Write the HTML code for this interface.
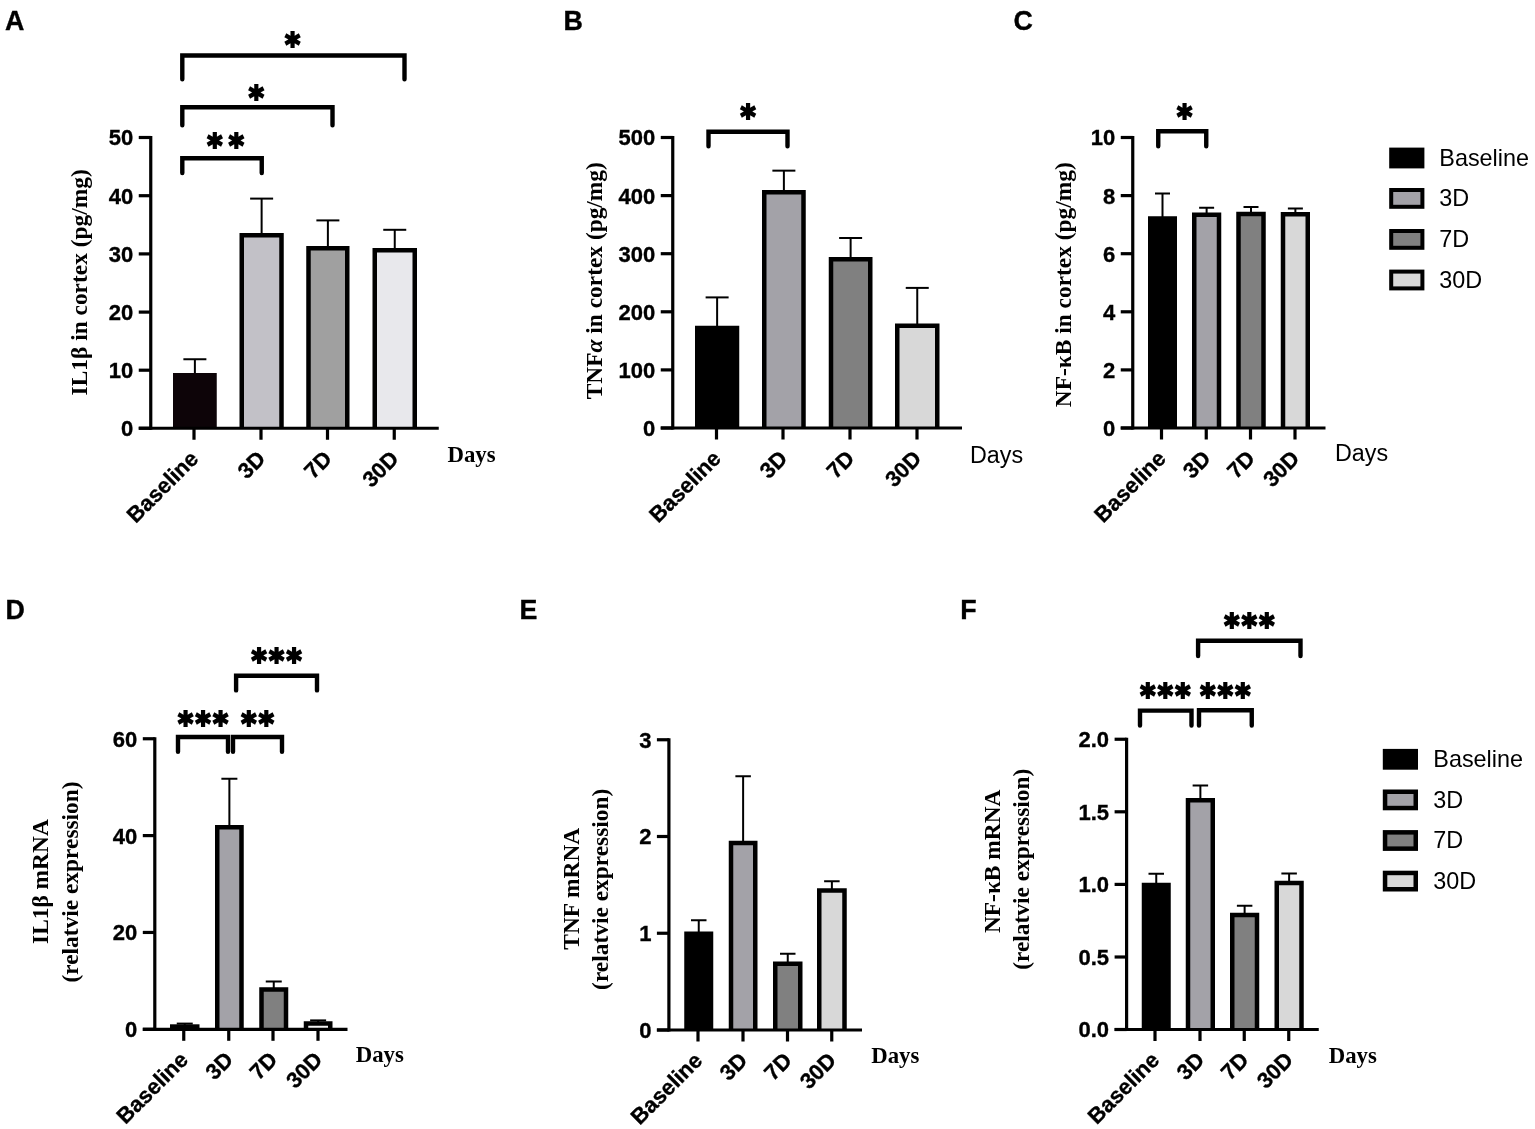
<!DOCTYPE html>
<html lang="en">
<head>
<meta charset="utf-8">
<title>Figure</title>
<style>
html,body{margin:0;padding:0;background:#fff;}
body{width:1535px;height:1129px;overflow:hidden;}
svg{display:block;filter:blur(0.45px);}
text{white-space:pre;}
</style>
</head>
<body>
<svg width="1535" height="1129" viewBox="0 0 1535 1129">
<rect width="1535" height="1129" fill="#fff"/>
<line x1="194.88" y1="359.25" x2="194.88" y2="375" stroke="#000" stroke-width="2" stroke-linecap="butt"/>
<line x1="183.38" y1="359.25" x2="206.38" y2="359.25" stroke="#000" stroke-width="2" stroke-linecap="butt"/>
<rect x="173" y="373" width="43.75" height="55.25" fill="#0d0408"/>
<line x1="261.62" y1="198.6" x2="261.62" y2="235" stroke="#000" stroke-width="2" stroke-linecap="butt"/>
<line x1="250.12" y1="198.6" x2="273.12" y2="198.6" stroke="#000" stroke-width="2" stroke-linecap="butt"/>
<path d="M241.75 428.25V235.25H281.5V428.25" fill="#c2c1c7" stroke="#000" stroke-width="4.5" stroke-linejoin="miter"/>
<line x1="327.88" y1="220.4" x2="327.88" y2="248" stroke="#000" stroke-width="2" stroke-linecap="butt"/>
<line x1="316.38" y1="220.4" x2="339.38" y2="220.4" stroke="#000" stroke-width="2" stroke-linecap="butt"/>
<path d="M308.5 428.25V248.25H347.25V428.25" fill="#a0a0a0" stroke="#000" stroke-width="4.5" stroke-linejoin="miter"/>
<line x1="394.75" y1="229.8" x2="394.75" y2="249.9" stroke="#000" stroke-width="2" stroke-linecap="butt"/>
<line x1="383.25" y1="229.8" x2="406.25" y2="229.8" stroke="#000" stroke-width="2" stroke-linecap="butt"/>
<path d="M374.75 428.25V250.15H414.75V428.25" fill="#e8e8ec" stroke="#000" stroke-width="4.5" stroke-linejoin="miter"/>
<line x1="150.75" y1="135.9" x2="150.75" y2="429.85" stroke="#000" stroke-width="3.2" stroke-linecap="butt"/>
<line x1="138.75" y1="428.25" x2="438.75" y2="428.25" stroke="#000" stroke-width="3.2" stroke-linecap="butt"/>
<line x1="138.75" y1="137.5" x2="150.75" y2="137.5" stroke="#000" stroke-width="3.2" stroke-linecap="butt"/>
<text x="133.25" y="145.4" font-family='"Liberation Sans", Arial, Helvetica, sans-serif' font-size="22" font-weight="bold" text-anchor="end" fill="#000" stroke="#000" stroke-width="0.35">50</text>
<line x1="138.75" y1="195.7" x2="150.75" y2="195.7" stroke="#000" stroke-width="3.2" stroke-linecap="butt"/>
<text x="133.25" y="203.6" font-family='"Liberation Sans", Arial, Helvetica, sans-serif' font-size="22" font-weight="bold" text-anchor="end" fill="#000" stroke="#000" stroke-width="0.35">40</text>
<line x1="138.75" y1="253.9" x2="150.75" y2="253.9" stroke="#000" stroke-width="3.2" stroke-linecap="butt"/>
<text x="133.25" y="261.8" font-family='"Liberation Sans", Arial, Helvetica, sans-serif' font-size="22" font-weight="bold" text-anchor="end" fill="#000" stroke="#000" stroke-width="0.35">30</text>
<line x1="138.75" y1="312.1" x2="150.75" y2="312.1" stroke="#000" stroke-width="3.2" stroke-linecap="butt"/>
<text x="133.25" y="320" font-family='"Liberation Sans", Arial, Helvetica, sans-serif' font-size="22" font-weight="bold" text-anchor="end" fill="#000" stroke="#000" stroke-width="0.35">20</text>
<line x1="138.75" y1="370.2" x2="150.75" y2="370.2" stroke="#000" stroke-width="3.2" stroke-linecap="butt"/>
<text x="133.25" y="378.1" font-family='"Liberation Sans", Arial, Helvetica, sans-serif' font-size="22" font-weight="bold" text-anchor="end" fill="#000" stroke="#000" stroke-width="0.35">10</text>
<line x1="138.75" y1="428.25" x2="150.75" y2="428.25" stroke="#000" stroke-width="3.2" stroke-linecap="butt"/>
<text x="133.25" y="436.15" font-family='"Liberation Sans", Arial, Helvetica, sans-serif' font-size="22" font-weight="bold" text-anchor="end" fill="#000" stroke="#000" stroke-width="0.35">0</text>
<line x1="194" y1="428.25" x2="194" y2="439.75" stroke="#000" stroke-width="3.2" stroke-linecap="butt"/>
<text x="199.75" y="460" font-family='"Liberation Sans", Arial, Helvetica, sans-serif' font-size="22" font-weight="bold" text-anchor="end" fill="#000" transform="rotate(-45 199.75 460)" stroke="#000" stroke-width="0.35">Baseline</text>
<line x1="261" y1="428.25" x2="261" y2="439.75" stroke="#000" stroke-width="3.2" stroke-linecap="butt"/>
<text x="266.75" y="460" font-family='"Liberation Sans", Arial, Helvetica, sans-serif' font-size="22" font-weight="bold" text-anchor="end" fill="#000" transform="rotate(-45 266.75 460)" stroke="#000" stroke-width="0.35">3D</text>
<line x1="327.5" y1="428.25" x2="327.5" y2="439.75" stroke="#000" stroke-width="3.2" stroke-linecap="butt"/>
<text x="333.25" y="460" font-family='"Liberation Sans", Arial, Helvetica, sans-serif' font-size="22" font-weight="bold" text-anchor="end" fill="#000" transform="rotate(-45 333.25 460)" stroke="#000" stroke-width="0.35">7D</text>
<line x1="394.25" y1="428.25" x2="394.25" y2="439.75" stroke="#000" stroke-width="3.2" stroke-linecap="butt"/>
<text x="400" y="460" font-family='"Liberation Sans", Arial, Helvetica, sans-serif' font-size="22" font-weight="bold" text-anchor="end" fill="#000" transform="rotate(-45 400 460)" stroke="#000" stroke-width="0.35">30D</text>
<text x="447.5" y="461.5" font-family='"Liberation Serif", "Times New Roman", Times, serif' font-size="22.8" font-weight="bold" text-anchor="start" fill="#000">Days</text>
<text x="87" y="282.35" font-family='"Liberation Serif", "Times New Roman", Times, serif' font-size="23.4" font-weight="bold" text-anchor="middle" fill="#000" transform="rotate(-90 87 282.35)">IL1β in cortex (pg/mg)</text>
<path d="M182.3 173V158.25H261.75V173" fill="none" stroke="#000" stroke-width="4.4" stroke-linecap="round" stroke-linejoin="miter"/>
<g transform="translate(225.6 156.41) scale(0.9 1)"><text x="3.55" y="0" font-family='"DejaVu Sans", "Liberation Sans", sans-serif' font-size="32.1" font-weight="bold" text-anchor="middle" letter-spacing="7.1" stroke="#000" stroke-width="2">**</text></g>
<path d="M182.3 125.2V107.2H332.5V125.2" fill="none" stroke="#000" stroke-width="4.4" stroke-linecap="round" stroke-linejoin="miter"/>
<g transform="translate(256.4 107.51) scale(0.9 1)"><text x="1.32" y="0" font-family='"DejaVu Sans", "Liberation Sans", sans-serif' font-size="32.1" font-weight="bold" text-anchor="middle" letter-spacing="2.65" stroke="#000" stroke-width="2">*</text></g>
<path d="M182.3 79.2V55.5H404.5V79.2" fill="none" stroke="#000" stroke-width="4.4" stroke-linecap="round" stroke-linejoin="miter"/>
<g transform="translate(292.6 54.91) scale(0.9 1)"><text x="1.32" y="0" font-family='"DejaVu Sans", "Liberation Sans", sans-serif' font-size="32.1" font-weight="bold" text-anchor="middle" letter-spacing="2.65" stroke="#000" stroke-width="2">*</text></g>
<text x="5.1" y="29.8" font-family='"Liberation Sans", Arial, Helvetica, sans-serif' font-size="26.8" font-weight="bold" text-anchor="start" fill="#000" stroke="#000" stroke-width="0.35">A</text>
<line x1="717.12" y1="297.4" x2="717.12" y2="327.75" stroke="#000" stroke-width="2" stroke-linecap="butt"/>
<line x1="705.62" y1="297.4" x2="728.62" y2="297.4" stroke="#000" stroke-width="2" stroke-linecap="butt"/>
<rect x="695" y="325.75" width="44.25" height="102.25" fill="#000000"/>
<line x1="783.88" y1="170.65" x2="783.88" y2="192" stroke="#000" stroke-width="2" stroke-linecap="butt"/>
<line x1="772.38" y1="170.65" x2="795.38" y2="170.65" stroke="#000" stroke-width="2" stroke-linecap="butt"/>
<path d="M764.25 428V192.25H803.5V428" fill="#a3a2a8" stroke="#000" stroke-width="4.5" stroke-linejoin="miter"/>
<line x1="850.62" y1="238" x2="850.62" y2="259" stroke="#000" stroke-width="2" stroke-linecap="butt"/>
<line x1="839.12" y1="238" x2="862.12" y2="238" stroke="#000" stroke-width="2" stroke-linecap="butt"/>
<path d="M831 428V259.25H870.25V428" fill="#808080" stroke="#000" stroke-width="4.5" stroke-linejoin="miter"/>
<line x1="917.25" y1="287.9" x2="917.25" y2="325.5" stroke="#000" stroke-width="2" stroke-linecap="butt"/>
<line x1="905.75" y1="287.9" x2="928.75" y2="287.9" stroke="#000" stroke-width="2" stroke-linecap="butt"/>
<path d="M897.25 428V325.75H937.25V428" fill="#d8d8d8" stroke="#000" stroke-width="4.5" stroke-linejoin="miter"/>
<line x1="672.75" y1="135.9" x2="672.75" y2="429.6" stroke="#000" stroke-width="3.2" stroke-linecap="butt"/>
<line x1="660.75" y1="428" x2="962" y2="428" stroke="#000" stroke-width="3.2" stroke-linecap="butt"/>
<line x1="660.75" y1="137.5" x2="672.75" y2="137.5" stroke="#000" stroke-width="3.2" stroke-linecap="butt"/>
<text x="655.25" y="145.4" font-family='"Liberation Sans", Arial, Helvetica, sans-serif' font-size="22" font-weight="bold" text-anchor="end" fill="#000" stroke="#000" stroke-width="0.35">500</text>
<line x1="660.75" y1="195.6" x2="672.75" y2="195.6" stroke="#000" stroke-width="3.2" stroke-linecap="butt"/>
<text x="655.25" y="203.5" font-family='"Liberation Sans", Arial, Helvetica, sans-serif' font-size="22" font-weight="bold" text-anchor="end" fill="#000" stroke="#000" stroke-width="0.35">400</text>
<line x1="660.75" y1="253.7" x2="672.75" y2="253.7" stroke="#000" stroke-width="3.2" stroke-linecap="butt"/>
<text x="655.25" y="261.6" font-family='"Liberation Sans", Arial, Helvetica, sans-serif' font-size="22" font-weight="bold" text-anchor="end" fill="#000" stroke="#000" stroke-width="0.35">300</text>
<line x1="660.75" y1="311.8" x2="672.75" y2="311.8" stroke="#000" stroke-width="3.2" stroke-linecap="butt"/>
<text x="655.25" y="319.7" font-family='"Liberation Sans", Arial, Helvetica, sans-serif' font-size="22" font-weight="bold" text-anchor="end" fill="#000" stroke="#000" stroke-width="0.35">200</text>
<line x1="660.75" y1="369.9" x2="672.75" y2="369.9" stroke="#000" stroke-width="3.2" stroke-linecap="butt"/>
<text x="655.25" y="377.8" font-family='"Liberation Sans", Arial, Helvetica, sans-serif' font-size="22" font-weight="bold" text-anchor="end" fill="#000" stroke="#000" stroke-width="0.35">100</text>
<line x1="660.75" y1="428" x2="672.75" y2="428" stroke="#000" stroke-width="3.2" stroke-linecap="butt"/>
<text x="655.25" y="435.9" font-family='"Liberation Sans", Arial, Helvetica, sans-serif' font-size="22" font-weight="bold" text-anchor="end" fill="#000" stroke="#000" stroke-width="0.35">0</text>
<line x1="716.5" y1="428" x2="716.5" y2="439.5" stroke="#000" stroke-width="3.2" stroke-linecap="butt"/>
<text x="722.25" y="459.75" font-family='"Liberation Sans", Arial, Helvetica, sans-serif' font-size="22" font-weight="bold" text-anchor="end" fill="#000" transform="rotate(-45 722.25 459.75)" stroke="#000" stroke-width="0.35">Baseline</text>
<line x1="783" y1="428" x2="783" y2="439.5" stroke="#000" stroke-width="3.2" stroke-linecap="butt"/>
<text x="788.75" y="459.75" font-family='"Liberation Sans", Arial, Helvetica, sans-serif' font-size="22" font-weight="bold" text-anchor="end" fill="#000" transform="rotate(-45 788.75 459.75)" stroke="#000" stroke-width="0.35">3D</text>
<line x1="850" y1="428" x2="850" y2="439.5" stroke="#000" stroke-width="3.2" stroke-linecap="butt"/>
<text x="855.75" y="459.75" font-family='"Liberation Sans", Arial, Helvetica, sans-serif' font-size="22" font-weight="bold" text-anchor="end" fill="#000" transform="rotate(-45 855.75 459.75)" stroke="#000" stroke-width="0.35">7D</text>
<line x1="917" y1="428" x2="917" y2="439.5" stroke="#000" stroke-width="3.2" stroke-linecap="butt"/>
<text x="922.75" y="459.75" font-family='"Liberation Sans", Arial, Helvetica, sans-serif' font-size="22" font-weight="bold" text-anchor="end" fill="#000" transform="rotate(-45 922.75 459.75)" stroke="#000" stroke-width="0.35">30D</text>
<text x="970" y="462.5" font-family='"Liberation Sans", Arial, Helvetica, sans-serif' font-size="23.3" font-weight="normal" text-anchor="start" fill="#000">Days</text>
<text x="602" y="280.7" font-family='"Liberation Serif", "Times New Roman", Times, serif' font-size="23.4" font-weight="bold" text-anchor="middle" fill="#000" transform="rotate(-90 602 280.7)">TNF<tspan font-style="italic">α</tspan> in cortex (pg/mg)</text>
<path d="M708.5 146.2V131.75H787.5V146.2" fill="none" stroke="#000" stroke-width="4.4" stroke-linecap="round" stroke-linejoin="miter"/>
<g transform="translate(748 127.36) scale(0.9 1)"><text x="1.32" y="0" font-family='"DejaVu Sans", "Liberation Sans", sans-serif' font-size="32.1" font-weight="bold" text-anchor="middle" letter-spacing="2.65" stroke="#000" stroke-width="2">*</text></g>
<text x="563.5" y="29.8" font-family='"Liberation Sans", Arial, Helvetica, sans-serif' font-size="26.8" font-weight="bold" text-anchor="start" fill="#000" stroke="#000" stroke-width="0.35">B</text>
<line x1="1162.5" y1="193.5" x2="1162.5" y2="218.25" stroke="#000" stroke-width="2" stroke-linecap="butt"/>
<line x1="1155" y1="193.5" x2="1170" y2="193.5" stroke="#000" stroke-width="2" stroke-linecap="butt"/>
<rect x="1148" y="216.25" width="29" height="211.75" fill="#000000"/>
<line x1="1206.62" y1="207.75" x2="1206.62" y2="214.5" stroke="#000" stroke-width="2" stroke-linecap="butt"/>
<line x1="1199.12" y1="207.75" x2="1214.12" y2="207.75" stroke="#000" stroke-width="2" stroke-linecap="butt"/>
<path d="M1194.25 428V214.75H1219V428" fill="#a3a2a8" stroke="#000" stroke-width="4.5" stroke-linejoin="miter"/>
<line x1="1251" y1="207" x2="1251" y2="213.75" stroke="#000" stroke-width="2" stroke-linecap="butt"/>
<line x1="1243.5" y1="207" x2="1258.5" y2="207" stroke="#000" stroke-width="2" stroke-linecap="butt"/>
<path d="M1238.5 428V214H1263.5V428" fill="#808080" stroke="#000" stroke-width="4.5" stroke-linejoin="miter"/>
<line x1="1295.38" y1="208.5" x2="1295.38" y2="214" stroke="#000" stroke-width="2" stroke-linecap="butt"/>
<line x1="1287.88" y1="208.5" x2="1302.88" y2="208.5" stroke="#000" stroke-width="2" stroke-linecap="butt"/>
<path d="M1283 428V214.25H1307.75V428" fill="#d8d8d8" stroke="#000" stroke-width="4.5" stroke-linejoin="miter"/>
<line x1="1132.75" y1="135.9" x2="1132.75" y2="429.6" stroke="#000" stroke-width="3.2" stroke-linecap="butt"/>
<line x1="1120.75" y1="428" x2="1325.5" y2="428" stroke="#000" stroke-width="3.2" stroke-linecap="butt"/>
<line x1="1120.75" y1="137.5" x2="1132.75" y2="137.5" stroke="#000" stroke-width="3.2" stroke-linecap="butt"/>
<text x="1115.25" y="145.4" font-family='"Liberation Sans", Arial, Helvetica, sans-serif' font-size="22" font-weight="bold" text-anchor="end" fill="#000" stroke="#000" stroke-width="0.35">10</text>
<line x1="1120.75" y1="195.6" x2="1132.75" y2="195.6" stroke="#000" stroke-width="3.2" stroke-linecap="butt"/>
<text x="1115.25" y="203.5" font-family='"Liberation Sans", Arial, Helvetica, sans-serif' font-size="22" font-weight="bold" text-anchor="end" fill="#000" stroke="#000" stroke-width="0.35">8</text>
<line x1="1120.75" y1="253.7" x2="1132.75" y2="253.7" stroke="#000" stroke-width="3.2" stroke-linecap="butt"/>
<text x="1115.25" y="261.6" font-family='"Liberation Sans", Arial, Helvetica, sans-serif' font-size="22" font-weight="bold" text-anchor="end" fill="#000" stroke="#000" stroke-width="0.35">6</text>
<line x1="1120.75" y1="311.8" x2="1132.75" y2="311.8" stroke="#000" stroke-width="3.2" stroke-linecap="butt"/>
<text x="1115.25" y="319.7" font-family='"Liberation Sans", Arial, Helvetica, sans-serif' font-size="22" font-weight="bold" text-anchor="end" fill="#000" stroke="#000" stroke-width="0.35">4</text>
<line x1="1120.75" y1="369.9" x2="1132.75" y2="369.9" stroke="#000" stroke-width="3.2" stroke-linecap="butt"/>
<text x="1115.25" y="377.8" font-family='"Liberation Sans", Arial, Helvetica, sans-serif' font-size="22" font-weight="bold" text-anchor="end" fill="#000" stroke="#000" stroke-width="0.35">2</text>
<line x1="1120.75" y1="428" x2="1132.75" y2="428" stroke="#000" stroke-width="3.2" stroke-linecap="butt"/>
<text x="1115.25" y="435.9" font-family='"Liberation Sans", Arial, Helvetica, sans-serif' font-size="22" font-weight="bold" text-anchor="end" fill="#000" stroke="#000" stroke-width="0.35">0</text>
<line x1="1161.5" y1="428" x2="1161.5" y2="439.5" stroke="#000" stroke-width="3.2" stroke-linecap="butt"/>
<text x="1167.25" y="459.75" font-family='"Liberation Sans", Arial, Helvetica, sans-serif' font-size="22" font-weight="bold" text-anchor="end" fill="#000" transform="rotate(-45 1167.25 459.75)" stroke="#000" stroke-width="0.35">Baseline</text>
<line x1="1206.25" y1="428" x2="1206.25" y2="439.5" stroke="#000" stroke-width="3.2" stroke-linecap="butt"/>
<text x="1212" y="459.75" font-family='"Liberation Sans", Arial, Helvetica, sans-serif' font-size="22" font-weight="bold" text-anchor="end" fill="#000" transform="rotate(-45 1212 459.75)" stroke="#000" stroke-width="0.35">3D</text>
<line x1="1250.5" y1="428" x2="1250.5" y2="439.5" stroke="#000" stroke-width="3.2" stroke-linecap="butt"/>
<text x="1256.25" y="459.75" font-family='"Liberation Sans", Arial, Helvetica, sans-serif' font-size="22" font-weight="bold" text-anchor="end" fill="#000" transform="rotate(-45 1256.25 459.75)" stroke="#000" stroke-width="0.35">7D</text>
<line x1="1295" y1="428" x2="1295" y2="439.5" stroke="#000" stroke-width="3.2" stroke-linecap="butt"/>
<text x="1300.75" y="459.75" font-family='"Liberation Sans", Arial, Helvetica, sans-serif' font-size="22" font-weight="bold" text-anchor="end" fill="#000" transform="rotate(-45 1300.75 459.75)" stroke="#000" stroke-width="0.35">30D</text>
<text x="1335" y="460.5" font-family='"Liberation Sans", Arial, Helvetica, sans-serif' font-size="23.3" font-weight="normal" text-anchor="start" fill="#000">Days</text>
<text x="1071.3" y="284.7" font-family='"Liberation Serif", "Times New Roman", Times, serif' font-size="23.4" font-weight="bold" text-anchor="middle" fill="#000" transform="rotate(-90 1071.3 284.7)">NF-κB in cortex (pg/mg)</text>
<path d="M1158.25 146.2V131.25H1206.25V146.2" fill="none" stroke="#000" stroke-width="4.4" stroke-linecap="round" stroke-linejoin="miter"/>
<g transform="translate(1184.6 127.26) scale(0.9 1)"><text x="1.32" y="0" font-family='"DejaVu Sans", "Liberation Sans", sans-serif' font-size="32.1" font-weight="bold" text-anchor="middle" letter-spacing="2.65" stroke="#000" stroke-width="2">*</text></g>
<text x="1013.4" y="29.8" font-family='"Liberation Sans", Arial, Helvetica, sans-serif' font-size="26.8" font-weight="bold" text-anchor="start" fill="#000" stroke="#000" stroke-width="0.35">C</text>
<line x1="184.75" y1="1023.6" x2="184.75" y2="1026.3" stroke="#000" stroke-width="2" stroke-linecap="butt"/>
<line x1="176.75" y1="1023.6" x2="192.75" y2="1023.6" stroke="#000" stroke-width="2" stroke-linecap="butt"/>
<rect x="170" y="1024.3" width="29.5" height="5" fill="#000000"/>
<line x1="229.38" y1="778.75" x2="229.38" y2="827" stroke="#000" stroke-width="2" stroke-linecap="butt"/>
<line x1="221.38" y1="778.75" x2="237.38" y2="778.75" stroke="#000" stroke-width="2" stroke-linecap="butt"/>
<path d="M217.25 1029.3V827.25H241.5V1029.3" fill="#a3a2a8" stroke="#000" stroke-width="4.5" stroke-linejoin="miter"/>
<line x1="273.75" y1="981.5" x2="273.75" y2="989.2" stroke="#000" stroke-width="2" stroke-linecap="butt"/>
<line x1="265.75" y1="981.5" x2="281.75" y2="981.5" stroke="#000" stroke-width="2" stroke-linecap="butt"/>
<path d="M261.5 1029.3V989.45H286V1029.3" fill="#808080" stroke="#000" stroke-width="4.5" stroke-linejoin="miter"/>
<line x1="318.12" y1="1020.4" x2="318.12" y2="1023.2" stroke="#000" stroke-width="2" stroke-linecap="butt"/>
<line x1="310.12" y1="1020.4" x2="326.12" y2="1020.4" stroke="#000" stroke-width="2" stroke-linecap="butt"/>
<path d="M306 1029.3V1023.45H330.25V1029.3" fill="#f4f4f4" stroke="#000" stroke-width="4.5" stroke-linejoin="miter"/>
<line x1="154.8" y1="737.15" x2="154.8" y2="1030.9" stroke="#000" stroke-width="3.2" stroke-linecap="butt"/>
<line x1="142.8" y1="1029.3" x2="347.5" y2="1029.3" stroke="#000" stroke-width="3.2" stroke-linecap="butt"/>
<line x1="142.8" y1="738.75" x2="154.8" y2="738.75" stroke="#000" stroke-width="3.2" stroke-linecap="butt"/>
<text x="137.3" y="746.65" font-family='"Liberation Sans", Arial, Helvetica, sans-serif' font-size="22" font-weight="bold" text-anchor="end" fill="#000" stroke="#000" stroke-width="0.35">60</text>
<line x1="142.8" y1="835.6" x2="154.8" y2="835.6" stroke="#000" stroke-width="3.2" stroke-linecap="butt"/>
<text x="137.3" y="843.5" font-family='"Liberation Sans", Arial, Helvetica, sans-serif' font-size="22" font-weight="bold" text-anchor="end" fill="#000" stroke="#000" stroke-width="0.35">40</text>
<line x1="142.8" y1="932.45" x2="154.8" y2="932.45" stroke="#000" stroke-width="3.2" stroke-linecap="butt"/>
<text x="137.3" y="940.35" font-family='"Liberation Sans", Arial, Helvetica, sans-serif' font-size="22" font-weight="bold" text-anchor="end" fill="#000" stroke="#000" stroke-width="0.35">20</text>
<line x1="142.8" y1="1029.3" x2="154.8" y2="1029.3" stroke="#000" stroke-width="3.2" stroke-linecap="butt"/>
<text x="137.3" y="1037.2" font-family='"Liberation Sans", Arial, Helvetica, sans-serif' font-size="22" font-weight="bold" text-anchor="end" fill="#000" stroke="#000" stroke-width="0.35">0</text>
<line x1="183.75" y1="1029.3" x2="183.75" y2="1040.8" stroke="#000" stroke-width="3.2" stroke-linecap="butt"/>
<text x="189.5" y="1061.05" font-family='"Liberation Sans", Arial, Helvetica, sans-serif' font-size="22" font-weight="bold" text-anchor="end" fill="#000" transform="rotate(-45 189.5 1061.05)" stroke="#000" stroke-width="0.35">Baseline</text>
<line x1="228.75" y1="1029.3" x2="228.75" y2="1040.8" stroke="#000" stroke-width="3.2" stroke-linecap="butt"/>
<text x="234.5" y="1061.05" font-family='"Liberation Sans", Arial, Helvetica, sans-serif' font-size="22" font-weight="bold" text-anchor="end" fill="#000" transform="rotate(-45 234.5 1061.05)" stroke="#000" stroke-width="0.35">3D</text>
<line x1="273" y1="1029.3" x2="273" y2="1040.8" stroke="#000" stroke-width="3.2" stroke-linecap="butt"/>
<text x="278.75" y="1061.05" font-family='"Liberation Sans", Arial, Helvetica, sans-serif' font-size="22" font-weight="bold" text-anchor="end" fill="#000" transform="rotate(-45 278.75 1061.05)" stroke="#000" stroke-width="0.35">7D</text>
<line x1="318" y1="1029.3" x2="318" y2="1040.8" stroke="#000" stroke-width="3.2" stroke-linecap="butt"/>
<text x="323.75" y="1061.05" font-family='"Liberation Sans", Arial, Helvetica, sans-serif' font-size="22" font-weight="bold" text-anchor="end" fill="#000" transform="rotate(-45 323.75 1061.05)" stroke="#000" stroke-width="0.35">30D</text>
<text x="355.75" y="1061.5" font-family='"Liberation Serif", "Times New Roman", Times, serif' font-size="22.8" font-weight="bold" text-anchor="start" fill="#000">Days</text>
<text x="48.3" y="881.6" font-family='"Liberation Serif", "Times New Roman", Times, serif' font-size="23.4" font-weight="bold" text-anchor="middle" fill="#000" transform="rotate(-90 48.3 881.6)">IL1β mRNA</text>
<text x="77.5" y="882" font-family='"Liberation Serif", "Times New Roman", Times, serif' font-size="23.4" font-weight="bold" text-anchor="middle" fill="#000" transform="rotate(-90 77.5 882)">(relatvie expression)</text>
<path d="M178 751.8V737H228V751.8" fill="none" stroke="#000" stroke-width="4.4" stroke-linecap="round" stroke-linejoin="miter"/>
<g transform="translate(203 733.56) scale(0.9 1)"><text x="1.32" y="0" font-family='"DejaVu Sans", "Liberation Sans", sans-serif' font-size="32.1" font-weight="bold" text-anchor="middle" letter-spacing="2.65" stroke="#000" stroke-width="2">***</text></g>
<path d="M233 751.8V737H282V751.8" fill="none" stroke="#000" stroke-width="4.4" stroke-linecap="round" stroke-linejoin="miter"/>
<g transform="translate(257.5 733.56) scale(0.9 1)"><text x="1.32" y="0" font-family='"DejaVu Sans", "Liberation Sans", sans-serif' font-size="32.1" font-weight="bold" text-anchor="middle" letter-spacing="2.65" stroke="#000" stroke-width="2">**</text></g>
<path d="M236.1 690.4V675.75H317V690.4" fill="none" stroke="#000" stroke-width="4.4" stroke-linecap="round" stroke-linejoin="miter"/>
<g transform="translate(276.55 671.31) scale(0.9 1)"><text x="1.32" y="0" font-family='"DejaVu Sans", "Liberation Sans", sans-serif' font-size="32.1" font-weight="bold" text-anchor="middle" letter-spacing="2.65" stroke="#000" stroke-width="2">***</text></g>
<text x="5.6" y="618.9" font-family='"Liberation Sans", Arial, Helvetica, sans-serif' font-size="26.8" font-weight="bold" text-anchor="start" fill="#000" stroke="#000" stroke-width="0.35">D</text>
<line x1="698.75" y1="920.25" x2="698.75" y2="933.5" stroke="#000" stroke-width="2" stroke-linecap="butt"/>
<line x1="691" y1="920.25" x2="706.5" y2="920.25" stroke="#000" stroke-width="2" stroke-linecap="butt"/>
<rect x="684.25" y="931.5" width="29" height="98.5" fill="#000000"/>
<line x1="743.12" y1="776.25" x2="743.12" y2="842.75" stroke="#000" stroke-width="2" stroke-linecap="butt"/>
<line x1="735.38" y1="776.25" x2="750.88" y2="776.25" stroke="#000" stroke-width="2" stroke-linecap="butt"/>
<path d="M731 1030V843H755.25V1030" fill="#a3a2a8" stroke="#000" stroke-width="4.5" stroke-linejoin="miter"/>
<line x1="787.75" y1="953.75" x2="787.75" y2="963.5" stroke="#000" stroke-width="2" stroke-linecap="butt"/>
<line x1="780" y1="953.75" x2="795.5" y2="953.75" stroke="#000" stroke-width="2" stroke-linecap="butt"/>
<path d="M775.25 1030V963.75H800.25V1030" fill="#808080" stroke="#000" stroke-width="4.5" stroke-linejoin="miter"/>
<line x1="831.88" y1="881.25" x2="831.88" y2="890.25" stroke="#000" stroke-width="2" stroke-linecap="butt"/>
<line x1="824.12" y1="881.25" x2="839.62" y2="881.25" stroke="#000" stroke-width="2" stroke-linecap="butt"/>
<path d="M819.25 1030V890.5H844.5V1030" fill="#d8d8d8" stroke="#000" stroke-width="4.5" stroke-linejoin="miter"/>
<line x1="668.9" y1="738.15" x2="668.9" y2="1031.6" stroke="#000" stroke-width="3.2" stroke-linecap="butt"/>
<line x1="656.9" y1="1030" x2="862" y2="1030" stroke="#000" stroke-width="3.2" stroke-linecap="butt"/>
<line x1="656.9" y1="739.75" x2="668.9" y2="739.75" stroke="#000" stroke-width="3.2" stroke-linecap="butt"/>
<text x="651.4" y="747.65" font-family='"Liberation Sans", Arial, Helvetica, sans-serif' font-size="22" font-weight="bold" text-anchor="end" fill="#000" stroke="#000" stroke-width="0.35">3</text>
<line x1="656.9" y1="836.5" x2="668.9" y2="836.5" stroke="#000" stroke-width="3.2" stroke-linecap="butt"/>
<text x="651.4" y="844.4" font-family='"Liberation Sans", Arial, Helvetica, sans-serif' font-size="22" font-weight="bold" text-anchor="end" fill="#000" stroke="#000" stroke-width="0.35">2</text>
<line x1="656.9" y1="933.25" x2="668.9" y2="933.25" stroke="#000" stroke-width="3.2" stroke-linecap="butt"/>
<text x="651.4" y="941.15" font-family='"Liberation Sans", Arial, Helvetica, sans-serif' font-size="22" font-weight="bold" text-anchor="end" fill="#000" stroke="#000" stroke-width="0.35">1</text>
<line x1="656.9" y1="1030" x2="668.9" y2="1030" stroke="#000" stroke-width="3.2" stroke-linecap="butt"/>
<text x="651.4" y="1037.9" font-family='"Liberation Sans", Arial, Helvetica, sans-serif' font-size="22" font-weight="bold" text-anchor="end" fill="#000" stroke="#000" stroke-width="0.35">0</text>
<line x1="698" y1="1030" x2="698" y2="1041.5" stroke="#000" stroke-width="3.2" stroke-linecap="butt"/>
<text x="703.75" y="1061.75" font-family='"Liberation Sans", Arial, Helvetica, sans-serif' font-size="22" font-weight="bold" text-anchor="end" fill="#000" transform="rotate(-45 703.75 1061.75)" stroke="#000" stroke-width="0.35">Baseline</text>
<line x1="743" y1="1030" x2="743" y2="1041.5" stroke="#000" stroke-width="3.2" stroke-linecap="butt"/>
<text x="748.75" y="1061.75" font-family='"Liberation Sans", Arial, Helvetica, sans-serif' font-size="22" font-weight="bold" text-anchor="end" fill="#000" transform="rotate(-45 748.75 1061.75)" stroke="#000" stroke-width="0.35">3D</text>
<line x1="787.5" y1="1030" x2="787.5" y2="1041.5" stroke="#000" stroke-width="3.2" stroke-linecap="butt"/>
<text x="793.25" y="1061.75" font-family='"Liberation Sans", Arial, Helvetica, sans-serif' font-size="22" font-weight="bold" text-anchor="end" fill="#000" transform="rotate(-45 793.25 1061.75)" stroke="#000" stroke-width="0.35">7D</text>
<line x1="831.75" y1="1030" x2="831.75" y2="1041.5" stroke="#000" stroke-width="3.2" stroke-linecap="butt"/>
<text x="837.5" y="1061.75" font-family='"Liberation Sans", Arial, Helvetica, sans-serif' font-size="22" font-weight="bold" text-anchor="end" fill="#000" transform="rotate(-45 837.5 1061.75)" stroke="#000" stroke-width="0.35">30D</text>
<text x="871.25" y="1062.5" font-family='"Liberation Serif", "Times New Roman", Times, serif' font-size="22.8" font-weight="bold" text-anchor="start" fill="#000">Days</text>
<text x="578.8" y="888.7" font-family='"Liberation Serif", "Times New Roman", Times, serif' font-size="23.4" font-weight="bold" text-anchor="middle" fill="#000" transform="rotate(-90 578.8 888.7)">TNF mRNA</text>
<text x="608" y="889.3" font-family='"Liberation Serif", "Times New Roman", Times, serif' font-size="23.4" font-weight="bold" text-anchor="middle" fill="#000" transform="rotate(-90 608 889.3)">(relatvie expression)</text>
<text x="519.4" y="618.9" font-family='"Liberation Sans", Arial, Helvetica, sans-serif' font-size="26.8" font-weight="bold" text-anchor="start" fill="#000" stroke="#000" stroke-width="0.35">E</text>
<line x1="1156.25" y1="873.75" x2="1156.25" y2="884.75" stroke="#000" stroke-width="2" stroke-linecap="butt"/>
<line x1="1148.5" y1="873.75" x2="1164" y2="873.75" stroke="#000" stroke-width="2" stroke-linecap="butt"/>
<rect x="1141.75" y="882.75" width="29" height="146.75" fill="#000000"/>
<line x1="1200.38" y1="785.5" x2="1200.38" y2="800" stroke="#000" stroke-width="2" stroke-linecap="butt"/>
<line x1="1192.62" y1="785.5" x2="1208.12" y2="785.5" stroke="#000" stroke-width="2" stroke-linecap="butt"/>
<path d="M1188 1029.5V800.25H1212.75V1029.5" fill="#a3a2a8" stroke="#000" stroke-width="4.5" stroke-linejoin="miter"/>
<line x1="1244.62" y1="905.75" x2="1244.62" y2="914.75" stroke="#000" stroke-width="2" stroke-linecap="butt"/>
<line x1="1236.88" y1="905.75" x2="1252.38" y2="905.75" stroke="#000" stroke-width="2" stroke-linecap="butt"/>
<path d="M1232.25 1029.5V915H1257V1029.5" fill="#808080" stroke="#000" stroke-width="4.5" stroke-linejoin="miter"/>
<line x1="1289.12" y1="873.5" x2="1289.12" y2="882.75" stroke="#000" stroke-width="2" stroke-linecap="butt"/>
<line x1="1281.38" y1="873.5" x2="1296.88" y2="873.5" stroke="#000" stroke-width="2" stroke-linecap="butt"/>
<path d="M1276.75 1029.5V883H1301.5V1029.5" fill="#d8d8d8" stroke="#000" stroke-width="4.5" stroke-linejoin="miter"/>
<line x1="1126.6" y1="737.65" x2="1126.6" y2="1031.1" stroke="#000" stroke-width="3.2" stroke-linecap="butt"/>
<line x1="1114.6" y1="1029.5" x2="1318.75" y2="1029.5" stroke="#000" stroke-width="3.2" stroke-linecap="butt"/>
<line x1="1114.6" y1="739.25" x2="1126.6" y2="739.25" stroke="#000" stroke-width="3.2" stroke-linecap="butt"/>
<text x="1109.1" y="747.15" font-family='"Liberation Sans", Arial, Helvetica, sans-serif' font-size="22" font-weight="bold" text-anchor="end" fill="#000" stroke="#000" stroke-width="0.35">2.0</text>
<line x1="1114.6" y1="811.8" x2="1126.6" y2="811.8" stroke="#000" stroke-width="3.2" stroke-linecap="butt"/>
<text x="1109.1" y="819.7" font-family='"Liberation Sans", Arial, Helvetica, sans-serif' font-size="22" font-weight="bold" text-anchor="end" fill="#000" stroke="#000" stroke-width="0.35">1.5</text>
<line x1="1114.6" y1="884.4" x2="1126.6" y2="884.4" stroke="#000" stroke-width="3.2" stroke-linecap="butt"/>
<text x="1109.1" y="892.3" font-family='"Liberation Sans", Arial, Helvetica, sans-serif' font-size="22" font-weight="bold" text-anchor="end" fill="#000" stroke="#000" stroke-width="0.35">1.0</text>
<line x1="1114.6" y1="957" x2="1126.6" y2="957" stroke="#000" stroke-width="3.2" stroke-linecap="butt"/>
<text x="1109.1" y="964.9" font-family='"Liberation Sans", Arial, Helvetica, sans-serif' font-size="22" font-weight="bold" text-anchor="end" fill="#000" stroke="#000" stroke-width="0.35">0.5</text>
<line x1="1114.6" y1="1029.5" x2="1126.6" y2="1029.5" stroke="#000" stroke-width="3.2" stroke-linecap="butt"/>
<text x="1109.1" y="1037.4" font-family='"Liberation Sans", Arial, Helvetica, sans-serif' font-size="22" font-weight="bold" text-anchor="end" fill="#000" stroke="#000" stroke-width="0.35">0.0</text>
<line x1="1155" y1="1029.5" x2="1155" y2="1041" stroke="#000" stroke-width="3.2" stroke-linecap="butt"/>
<text x="1160.75" y="1061.25" font-family='"Liberation Sans", Arial, Helvetica, sans-serif' font-size="22" font-weight="bold" text-anchor="end" fill="#000" transform="rotate(-45 1160.75 1061.25)" stroke="#000" stroke-width="0.35">Baseline</text>
<line x1="1200" y1="1029.5" x2="1200" y2="1041" stroke="#000" stroke-width="3.2" stroke-linecap="butt"/>
<text x="1205.75" y="1061.25" font-family='"Liberation Sans", Arial, Helvetica, sans-serif' font-size="22" font-weight="bold" text-anchor="end" fill="#000" transform="rotate(-45 1205.75 1061.25)" stroke="#000" stroke-width="0.35">3D</text>
<line x1="1244.25" y1="1029.5" x2="1244.25" y2="1041" stroke="#000" stroke-width="3.2" stroke-linecap="butt"/>
<text x="1250" y="1061.25" font-family='"Liberation Sans", Arial, Helvetica, sans-serif' font-size="22" font-weight="bold" text-anchor="end" fill="#000" transform="rotate(-45 1250 1061.25)" stroke="#000" stroke-width="0.35">7D</text>
<line x1="1288.75" y1="1029.5" x2="1288.75" y2="1041" stroke="#000" stroke-width="3.2" stroke-linecap="butt"/>
<text x="1294.5" y="1061.25" font-family='"Liberation Sans", Arial, Helvetica, sans-serif' font-size="22" font-weight="bold" text-anchor="end" fill="#000" transform="rotate(-45 1294.5 1061.25)" stroke="#000" stroke-width="0.35">30D</text>
<text x="1328.75" y="1063.25" font-family='"Liberation Serif", "Times New Roman", Times, serif' font-size="22.8" font-weight="bold" text-anchor="start" fill="#000">Days</text>
<text x="1000.4" y="861.3" font-family='"Liberation Serif", "Times New Roman", Times, serif' font-size="23.4" font-weight="bold" text-anchor="middle" fill="#000" transform="rotate(-90 1000.4 861.3)">NF-κB mRNA</text>
<text x="1029.1" y="869.25" font-family='"Liberation Serif", "Times New Roman", Times, serif' font-size="23.4" font-weight="bold" text-anchor="middle" fill="#000" transform="rotate(-90 1029.1 869.25)">(relatvie expression)</text>
<path d="M1140 725.6V710.65H1191.5V725.6" fill="none" stroke="#000" stroke-width="4.4" stroke-linecap="round" stroke-linejoin="miter"/>
<g transform="translate(1165.3 706.31) scale(0.9 1)"><text x="1.32" y="0" font-family='"DejaVu Sans", "Liberation Sans", sans-serif' font-size="32.1" font-weight="bold" text-anchor="middle" letter-spacing="2.65" stroke="#000" stroke-width="2">***</text></g>
<path d="M1199 725.6V710.25H1251.75V725.6" fill="none" stroke="#000" stroke-width="4.4" stroke-linecap="round" stroke-linejoin="miter"/>
<g transform="translate(1225.38 706.31) scale(0.9 1)"><text x="1.32" y="0" font-family='"DejaVu Sans", "Liberation Sans", sans-serif' font-size="32.1" font-weight="bold" text-anchor="middle" letter-spacing="2.65" stroke="#000" stroke-width="2">***</text></g>
<path d="M1198.1 656V640.7H1300.5V656" fill="none" stroke="#000" stroke-width="4.4" stroke-linecap="round" stroke-linejoin="miter"/>
<g transform="translate(1249.3 636.31) scale(0.9 1)"><text x="1.32" y="0" font-family='"DejaVu Sans", "Liberation Sans", sans-serif' font-size="32.1" font-weight="bold" text-anchor="middle" letter-spacing="2.65" stroke="#000" stroke-width="2">***</text></g>
<text x="960.3" y="618.9" font-family='"Liberation Sans", Arial, Helvetica, sans-serif' font-size="26.8" font-weight="bold" text-anchor="start" fill="#000" stroke="#000" stroke-width="0.35">F</text>
<rect x="1389.2" y="147.6" width="35.2" height="20.8" fill="#000"/>
<text x="1439.3" y="166" font-family='"Liberation Sans", Arial, Helvetica, sans-serif' font-size="23.4" font-weight="normal" text-anchor="start" fill="#000">Baseline</text>
<rect x="1391.2" y="190" width="31.2" height="16.8" fill="#a3a2a8" stroke="#000" stroke-width="4"/>
<text x="1439.3" y="206.3" font-family='"Liberation Sans", Arial, Helvetica, sans-serif' font-size="23.4" font-weight="normal" text-anchor="start" fill="#000">3D</text>
<rect x="1391.2" y="231" width="31.2" height="16.8" fill="#808080" stroke="#000" stroke-width="4"/>
<text x="1439.3" y="247" font-family='"Liberation Sans", Arial, Helvetica, sans-serif' font-size="23.4" font-weight="normal" text-anchor="start" fill="#000">7D</text>
<rect x="1391.2" y="271.6" width="31.2" height="16.8" fill="#d8d8d8" stroke="#000" stroke-width="4"/>
<text x="1439.3" y="288" font-family='"Liberation Sans", Arial, Helvetica, sans-serif' font-size="23.4" font-weight="normal" text-anchor="start" fill="#000">30D</text>
<rect x="1382.8" y="748.9" width="35.2" height="20.8" fill="#000"/>
<text x="1433.3" y="767.2" font-family='"Liberation Sans", Arial, Helvetica, sans-serif' font-size="23.4" font-weight="normal" text-anchor="start" fill="#000">Baseline</text>
<rect x="1385.05" y="791.75" width="30.7" height="16.3" fill="#a3a2a8" stroke="#000" stroke-width="4.5"/>
<text x="1433.3" y="807.7" font-family='"Liberation Sans", Arial, Helvetica, sans-serif' font-size="23.4" font-weight="normal" text-anchor="start" fill="#000">3D</text>
<rect x="1385.05" y="832.35" width="30.7" height="16.3" fill="#808080" stroke="#000" stroke-width="4.5"/>
<text x="1433.3" y="848.2" font-family='"Liberation Sans", Arial, Helvetica, sans-serif' font-size="23.4" font-weight="normal" text-anchor="start" fill="#000">7D</text>
<rect x="1385.05" y="872.95" width="30.7" height="16.3" fill="#d8d8d8" stroke="#000" stroke-width="4.5"/>
<text x="1433.3" y="889.2" font-family='"Liberation Sans", Arial, Helvetica, sans-serif' font-size="23.4" font-weight="normal" text-anchor="start" fill="#000">30D</text>
</svg>
</body>
</html>
